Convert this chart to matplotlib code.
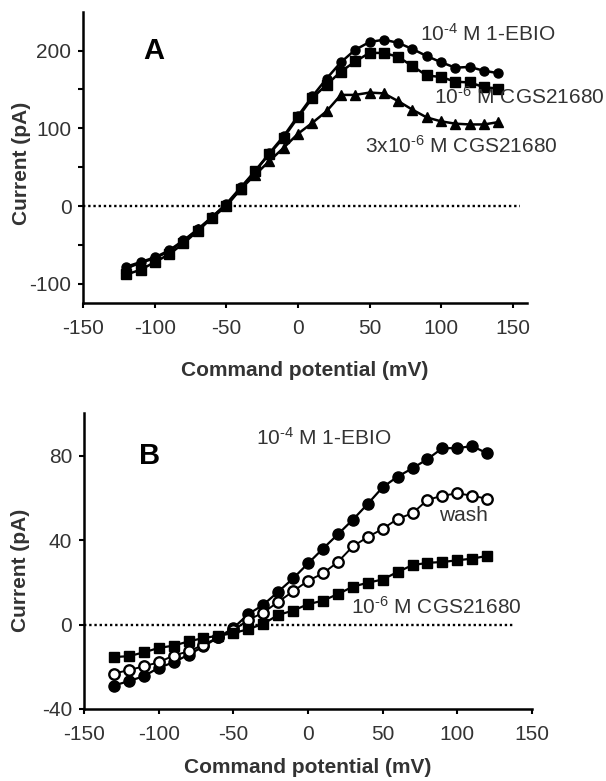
import matplotlib.pyplot as plt
import numpy as np

plt.rcParams['font.family'] = ['Liberation Sans', 'DejaVu Sans']
plt.rcParams['mathtext.fontset'] = 'custom'
plt.rcParams['mathtext.rm'] = 'Liberation Sans'
plt.rcParams['mathtext.it'] = 'Liberation Sans'
plt.rcParams['axes.unicode_minus'] = False

# panel A: -120..140 mV in 10 mV steps
volt_a = list(range(-120, 141, 10))
ebio_a = [-78, -72, -66, -57, -44, -30, -14, 3, 24, 45, 68, 90, 116, 141, 164, 185, 201, 211, 214, 210, 202, 193, 185, 178, 179, 174, 171]
cgs6_a = [-88, -82, -72, -62, -48, -32, -15, 0, 22, 45, 67, 88, 114, 139, 156, 173, 186, 197, 197, 192, 180, 168, 166, 160, 159, 153, 151]
cgs3_a = [-80, -73, -67, -58, -45, -30, -14, 2, 22, 40, 58, 75, 93, 107, 122, 143, 143, 146, 145, 135, 124, 114, 109, 106, 105, 105, 108]

# panel B: -130..120 mV in 10 mV steps
volt_b = list(range(-130, 121, 10))
ebio_b = [-28.9, -26.8, -24.5, -20.5, -17.9, -14.3, -10.4, -6.0, -1.7, 4.9, 9.3, 15.5, 21.8, 28.9, 35.9, 42.7, 49.6, 57.1, 65.0, 70.0, 74.0, 78.3, 83.5, 83.5, 84.5, 81.0]
wash_b = [-23.2, -21.6, -19.8, -17.9, -14.7, -12.7, -9.6, -6.0, -2.8, 2.2, 5.6, 10.7, 15.7, 20.7, 24.2, 29.6, 37.0, 41.4, 45.3, 50.0, 52.7, 59.0, 61.0, 62.1, 61.0, 59.5]
cgs_b = [-15.4, -15.0, -13.2, -11.1, -10.0, -8.0, -6.4, -5.3, -4.1, -2.2, 0.3, 4.5, 6.6, 9.6, 11.3, 14.4, 17.9, 19.8, 21.3, 24.9, 28.1, 29.2, 29.6, 30.4, 31.2, 32.5]

xticks = [-150, -100, -50, 0, 50, 100, 150]
yticks_a = [-100, -50, 0, 50, 100, 150, 200]
ylabels_a = ['-100', '', '0', '', '100', '', '200']
yticks_b = [-40, 0, 40, 80]

TXT = '#333333'
FS = 15


def style_axes(ax, xlab_y, ylab_x, ylab_y):
    for s in ['top', 'right']:
        ax.spines[s].set_visible(False)
    for s in ['left', 'bottom']:
        ax.spines[s].set_linewidth(1.8)
    ax.tick_params(direction='out', length=3.6, width=1.5, labelsize=FS, colors='black', labelcolor=TXT)
    ax.tick_params(axis='x', pad=8)
    ax.tick_params(axis='y', pad=5)
    ax.set_xlabel('Command potential (mV)', fontsize=FS, fontweight='bold', color=TXT, va='center')
    ax.set_ylabel('Current (pA)', fontsize=FS, fontweight='bold', color=TXT, va='center')
    ax.xaxis.set_label_coords(0.5, xlab_y)
    ax.yaxis.set_label_coords(ylab_x, ylab_y)


def sup(base, exp, rest):
    return base + r'$^{\text{' + exp + '}}$' + rest


fig = plt.figure(figsize=(6.06, 7.81), dpi=100)

ax1 = fig.add_axes([0.1375, 0.6117, 0.732, 0.3733])
kw = dict(color='black', lw=1.8, ms=6.5)
ax1.plot(volt_a, ebio_a, marker='o', **kw)
ax1.plot(volt_a, cgs6_a, marker='s', **kw)
ax1.plot(volt_a, cgs3_a, marker='^', **kw)
ax1.plot([-150, 155], [0, 0], color='black', lw=1.7, ls=(0, (1, 1.2)))
ax1.set_xlim(-150, 160)
ax1.set_ylim(-125, 250)
ax1.set_xticks(xticks)
ax1.set_yticks(yticks_a)
ax1.set_yticklabels(ylabels_a)
style_axes(ax1, -0.229, -0.14, 0.481)
ax1.text(-108, 200, 'A', fontsize=21, fontweight='bold', va='center', ha='left')
ax1.text(85, 222, sup('10', '-4', ' M 1-EBIO'), fontsize=FS, color=TXT, va='center', ha='left')
ax1.text(95, 141, sup('10', '-6', ' M CGS21680'), fontsize=FS, color=TXT, va='center', ha='left')
ax1.text(47, 77, sup('3x10', '-6', ' M CGS21680'), fontsize=FS, color=TXT, va='center', ha='left')

ax2 = fig.add_axes([0.1386, 0.0922, 0.7393, 0.3786])
ax2.plot(volt_b, ebio_b, marker='o', color='black', lw=1.6, ms=8)
ax2.plot(volt_b, wash_b, marker='o', mfc='white', mew=1.7, color='black', lw=1.4, ms=7.5)
ax2.plot(volt_b, cgs_b, marker='s', color='black', lw=1.6, ms=7.5)
ax2.plot([-150, 138], [0, 0], color='black', lw=1.7, ls=(0, (1, 1.2)))
ax2.set_xlim(-150, 150)
ax2.set_ylim(-40, 100)
ax2.set_xticks(xticks)
ax2.set_yticks(yticks_b)
style_axes(ax2, -0.199, -0.141, 0.47)
ax2.text(-113, 80, 'B', fontsize=21, fontweight='bold', va='center', ha='left')
ax2.text(-35, 88.5, sup('10', '-4', ' M 1-EBIO'), fontsize=FS, color=TXT, va='center', ha='left')
ax2.text(88, 51.6, 'wash', fontsize=FS, color=TXT, va='center', ha='left')
ax2.text(28.5, 8.5, sup('10', '-6', ' M CGS21680'), fontsize=FS, color=TXT, va='center', ha='left')

fig.savefig('out.png', dpi=100)
